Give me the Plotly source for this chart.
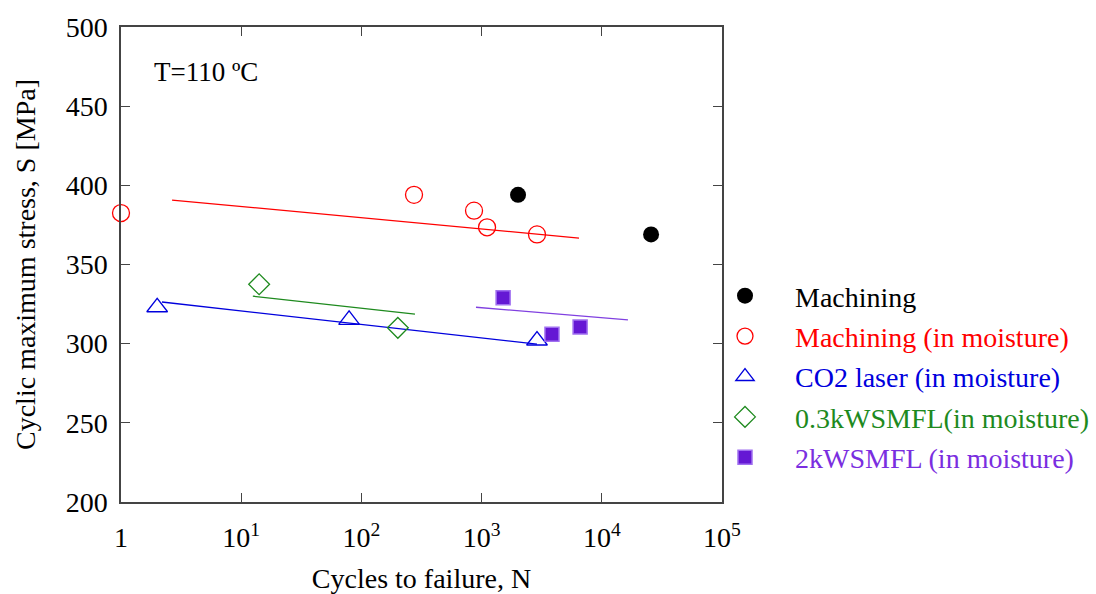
import plotly.graph_objects as go

FONT = "Liberation Serif"

# Data
mach_N = [2010, 25700]
mach_S = [394, 369]

mm_N = [1.0, 274, 865, 1110, 2890]
mm_S = [382.5, 394, 384, 373.5, 369]

co2_N = [2.0, 79, 2890]
co2_S = [323, 315, 302]

w03_N = [14.1, 201]
w03_S = [337.5, 310]

w2_N = [1510, 3850, 6600]
w2_S = [329, 306, 310.5]

# Fit lines (endpoints)
mm_line_N = [2.66, 6460]
mm_line_S = [390.7, 366.7]
co2_line_N = [2.19, 2890]
co2_line_S = [326.3, 299.7]
w03_line_N = [12.5, 279]
w03_line_S = [330, 318.7]
w2_line_N = [898, 16500]
w2_line_S = [323, 315]

x_tickvals = [1, 10, 100, 1000, 10000, 100000]
x_ticktext = ["1", "10<sup>1</sup>", "10<sup>2</sup>", "10<sup>3</sup>", "10<sup>4</sup>", "10<sup>5</sup>"]
y_tickvals = [200, 250, 300, 350, 400, 450, 500]

RED = "#FF0000"
BLUE = "#0000DD"
GREEN = "#1E8A1E"
PURPLE = "#6518D4"

# layout geometry (pixels)
W, H = 1096, 594
L, T, B = 121, 27, 92
PLOT_W = 601
PAPER_W = W - L
PLOT_H = H - T - B

fig = go.Figure()

for xs, ys, c in [(mm_line_N, mm_line_S, RED), (co2_line_N, co2_line_S, BLUE),
                  (w03_line_N, w03_line_S, GREEN), (w2_line_N, w2_line_S, "#8040E0")]:
    fig.add_trace(go.Scatter(x=xs, y=ys, mode="lines", line=dict(color=c, width=1.3),
                             showlegend=False, hoverinfo="skip"))

fig.add_trace(go.Scatter(x=mach_N, y=mach_S, mode="markers", name="Machining",
                         legendgroup="a", cliponaxis=False,
                         marker=dict(symbol="circle", size=16, color="black")))
fig.add_trace(go.Scatter(x=mm_N, y=mm_S, mode="markers",
                         name='<span style="color:#FF0000">Machining (in moisture)</span>',
                         legendgroup="b", cliponaxis=False,
                         marker=dict(symbol="circle-open", size=17, color=RED, line=dict(width=1.3))))
fig.add_trace(go.Scatter(x=co2_N, y=co2_S, mode="markers",
                         name='<span style="color:#0000DD">CO2 laser (in moisture)</span>',
                         legendgroup="c", cliponaxis=False,
                         marker=dict(symbol="triangle-up-open", size=18, color=BLUE, line=dict(width=1.3))))
fig.add_trace(go.Scatter(x=w03_N, y=w03_S, mode="markers",
                         name='<span style="color:#1E8A1E">0.3kWSMFL(in moisture)</span>',
                         legendgroup="d", cliponaxis=False,
                         marker=dict(symbol="diamond-open", size=16, color=GREEN, line=dict(width=1.3))))
fig.add_trace(go.Scatter(x=w2_N, y=w2_S, mode="markers",
                         name='<span style="color:#7A2EE0">2kWSMFL (in moisture)</span>',
                         legendgroup="e", cliponaxis=False,
                         marker=dict(symbol="square", size=14, color=PURPLE,
                                     line=dict(width=1.5, color="#A070F0"))))

fig.add_annotation(x=(152 - L) / PAPER_W, y=(H - B - 72) / PLOT_H, xref="paper", yref="paper",
                   text="T=110 ºC", showarrow=False, xanchor="left", yanchor="middle",
                   font=dict(family=FONT, size=27, color="black"))

axis_common = dict(showline=True, linecolor="#444", linewidth=1.5, mirror="ticks",
                   ticks="inside", ticklen=9, tickcolor="#444", tickwidth=1.3,
                   showgrid=False, zeroline=False,
                   tickfont=dict(family=FONT, size=28, color="black"))

fig.update_xaxes(type="log", range=[0, 5], tickvals=x_tickvals, ticktext=x_ticktext,
                 domain=[0, PLOT_W / PAPER_W], ticklabelstandoff=10,
                 title=dict(text="Cycles to failure, N", font=dict(family=FONT, size=28, color="black"),
                            standoff=22),
                 **axis_common)
fig.update_yaxes(range=[200, 500], tickvals=y_tickvals, ticklabelstandoff=6,
                 title=dict(text="Cyclic maximum stress, S [MPa]",
                            font=dict(family=FONT, size=28, color="black"), standoff=22),
                 **axis_common)

fig.update_layout(
    width=W, height=H,
    margin=dict(l=L, r=0, t=T, b=B, autoexpand=False),
    plot_bgcolor="white", paper_bgcolor="white",
    showlegend=True,
    legend=dict(x=(695 - L) / PAPER_W, y=(H - B - 271) / PLOT_H,
                xanchor="left", yanchor="top", tracegroupgap=1, itemwidth=90,
                font=dict(family=FONT, size=28, color="black"),
                bgcolor="rgba(0,0,0,0)"),
    font=dict(family=FONT),
)

fig.write_html("out.html")
